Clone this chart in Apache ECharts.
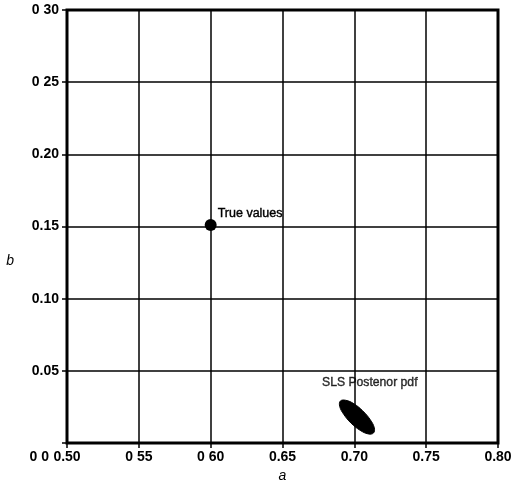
<!DOCTYPE html>
<html><head><meta charset="utf-8">
<script src="https://cdn.jsdelivr.net/npm/echarts@6/dist/echarts.min.js"></script>
<style>html,body{margin:0;padding:0;background:#fff}#c{width:514px;height:482px}</style>
</head><body><div id="c"></div>
<script>
const xTickLabels = ['0.50', '0 55', '0 60', '0.65', '0.70', '0.75', '0.80'];
const yTickLabels = ['0 0', '0.05', '0.10', '0.15', '0.20', '0 25', '0 30'];
const trueValues = [[0.60, 0.151]];
const trueLabel = 'True values';
const posteriorOutline = [
  [0.7133, 0.0069], [0.7097, 0.0063], [0.7040, 0.0088], [0.6977, 0.0138],
  [0.6926, 0.0199], [0.6898, 0.0254], [0.6903, 0.0291], [0.6940, 0.0296],
  [0.6997, 0.0272], [0.7059, 0.0222], [0.7111, 0.0161], [0.7139, 0.0105]
];
const posteriorLabel = 'SLS Postenor pdf';
const posteriorLabelAt = [[0.6775, 0.0415]];

const chart = echarts.init(document.getElementById('c'));
const font = 'Liberation Sans, Arial, sans-serif';
chart.setOption({
  animation: false,
  grid: {left: 67, right: 16, top: 10, bottom: 39, show: true, borderColor: '#000', borderWidth: 3,
    backgroundColor: 'transparent', containLabel: false, outerBoundsMode: 'none'},
  xAxis: {
    type: 'value', min: 0.50, max: 0.80, interval: 0.05,
    name: 'a', nameLocation: 'middle', nameGap: 25,
    nameTextStyle: {fontStyle: 'italic', fontSize: 14, color: '#000', fontFamily: font},
    axisLine: {lineStyle: {color: '#000', width: 2}},
    axisTick: {show: true, length: 5, lineStyle: {color: '#000', width: 1.5}},
    axisLabel: {color: '#000', fontSize: 14, fontWeight: 'bold', fontFamily: font, margin: 7,
      formatter: (v) => xTickLabels[Math.round((v - 0.5) / 0.05)]},
    splitLine: {show: true, lineStyle: {color: '#000', width: 1.5}}
  },
  yAxis: {
    type: 'value', min: 0, max: 0.30, interval: 0.05,
    name: '{n|b}', nameLocation: 'middle', nameGap: 53, nameRotate: 0,
    nameTextStyle: {fontStyle: 'italic', fontSize: 14, color: '#000', fontFamily: font,
      rich: {n: {fontStyle: 'italic', fontSize: 14, color: '#000', fontFamily: font, padding: [70, 0, 0, 0]}}},
    axisLine: {show: true, lineStyle: {color: '#000', width: 2}},
    axisTick: {show: true, length: 5, lineStyle: {color: '#000', width: 1.5}},
    axisLabel: {color: '#000', fontSize: 14, fontWeight: 'bold', fontFamily: font, margin: 8,
      formatter: (v) => {
        const i = Math.round(v / 0.05);
        return i === 0 ? '{low|' + yTickLabels[0] + '}' : yTickLabels[i];
      },
      rich: {low: {fontSize: 14, fontWeight: 'bold', fontFamily: font, color: '#000', padding: [28, 10, 0, 0]}}
    },
    splitLine: {show: true, lineStyle: {color: '#000', width: 1.5}}
  },
  series: [
    {
      type: 'custom',
      data: [0],
      renderItem: (params, api) => ({
        type: 'polygon',
        shape: {points: posteriorOutline.map(p => api.coord(p)), smooth: 0.4},
        style: {fill: '#000', stroke: '#000', lineWidth: 1}
      }),
      z: 5
    },
    {
      type: 'scatter',
      data: trueValues,
      symbol: 'circle', symbolSize: 12,
      itemStyle: {color: '#000', opacity: 1},
      label: {show: true, position: 'right', offset: [-4, -12], formatter: trueLabel,
        color: '#000', fontSize: 12.5, fontFamily: font, textBorderColor: '#000', textBorderWidth: 0.4},
      z: 6
    },
    {
      type: 'scatter',
      data: posteriorLabelAt,
      symbolSize: 0,
      label: {show: true, position: 'right', distance: 0, formatter: posteriorLabel,
        color: '#000', fontSize: 12.2, fontFamily: font, textBorderColor: '#000', textBorderWidth: 0.4},
      z: 6
    }
  ]
});
</script></body></html>
